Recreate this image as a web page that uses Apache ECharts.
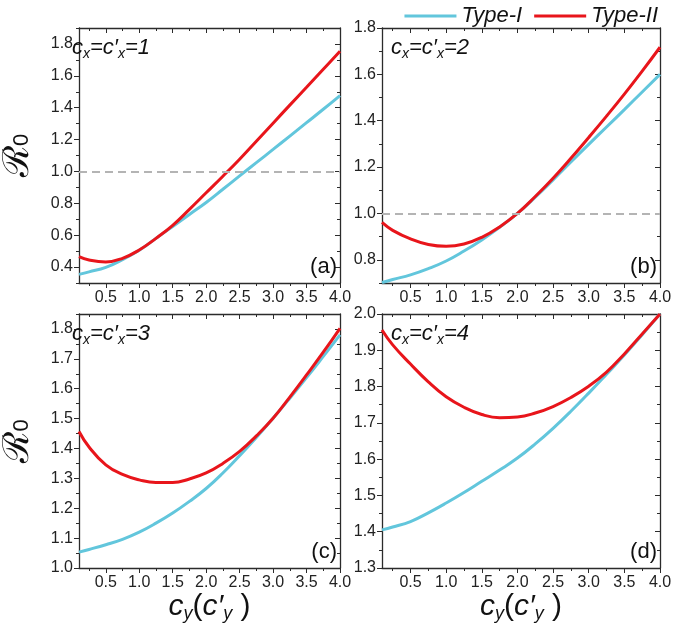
<!DOCTYPE html>
<html>
<head>
<meta charset="utf-8">
<script src="https://cdn.jsdelivr.net/npm/echarts@6/dist/echarts.min.js"></script>
<style>
  html, body { margin: 0; padding: 0; background: #fff; }
  #chart { width: 675px; height: 632px; }
</style>
</head>
<body>
<div id="chart"></div>
<script>
// c_y values shared by all four panels
const cy = [0.1, 0.25, 0.5, 0.75, 1.0, 1.25, 1.5, 1.75, 2.0, 2.25, 2.5, 2.75, 3.0, 3.25, 3.5, 3.75, 4.0]

// (a) cx = c'x = 1
const typeI_a = [0.354, 0.37, 0.398, 0.447, 0.505, 0.58, 0.655, 0.73, 0.805, 0.888, 0.972, 1.055, 1.138, 1.222, 1.306, 1.39, 1.476]
const typeII_a = [0.465, 0.444, 0.432, 0.455, 0.507, 0.58, 0.662, 0.762, 0.866, 0.97, 1.077, 1.19, 1.303, 1.416, 1.528, 1.641, 1.754]
// (b) cx = c'x = 2
const typeI_b = [0.702, 0.715, 0.735, 0.762, 0.795, 0.838, 0.886, 0.94, 1.0, 1.07, 1.145, 1.222, 1.298, 1.373, 1.448, 1.524, 1.6]
const typeII_b = [0.961, 0.927, 0.89, 0.866, 0.858, 0.868, 0.897, 0.942, 1.0, 1.073, 1.152, 1.238, 1.328, 1.42, 1.515, 1.614, 1.717]
// (c) cx = c'x = 3
const typeI_c = [1.053, 1.062, 1.078, 1.096, 1.12, 1.15, 1.184, 1.223, 1.266, 1.318, 1.376, 1.437, 1.501, 1.568, 1.637, 1.708, 1.78]
const typeII_c = [1.457, 1.405, 1.345, 1.313, 1.295, 1.286, 1.286, 1.298, 1.318, 1.35, 1.39, 1.442, 1.501, 1.572, 1.646, 1.722, 1.802]
// (d) cx = c'x = 4
const typeI_d = [1.405, 1.413, 1.428, 1.452, 1.479, 1.508, 1.539, 1.57, 1.603, 1.642, 1.685, 1.732, 1.782, 1.834, 1.887, 1.943, 2.0]
const typeII_d = [1.956, 1.915, 1.862, 1.813, 1.772, 1.743, 1.723, 1.714, 1.716, 1.727, 1.745, 1.77, 1.801, 1.84, 1.89, 1.945, 2.0]

// tick labels
const xMajor = [0.5, 1.0, 1.5, 2.0, 2.5, 3.0, 3.5, 4.0]
const xMinor = [0.25, 0.75, 1.25, 1.75, 2.25, 2.75, 3.25, 3.75]
const yMajor_a = [0.4, 0.6, 0.8, 1.0, 1.2, 1.4, 1.6, 1.8]
const yMinor_a = [0.3, 0.5, 0.7, 0.9, 1.1, 1.3, 1.5, 1.7, 1.9]
const yMajor_b = [0.8, 1.0, 1.2, 1.4, 1.6, 1.8]
const yMinor_b = [0.7, 0.9, 1.1, 1.3, 1.5, 1.7]
const yMajor_c = [1.0, 1.1, 1.2, 1.3, 1.4, 1.5, 1.6, 1.7, 1.8]
const yMinor_c = [1.05, 1.15, 1.25, 1.35, 1.45, 1.55, 1.65, 1.75, 1.85]
const yMajor_d = [1.3, 1.4, 1.5, 1.6, 1.7, 1.8, 1.9, 2.0]
const yMinor_d = [1.35, 1.45, 1.55, 1.65, 1.75, 1.85, 1.95]

const threshold = 1.0
const panelLabels = ['(a)', '(b)', '(c)', '(d)']
const cxValues = ['1', '2', '3', '4']

const CYAN = '#62c6dc'
const RED = '#e8151b'
const AXIS = '#2b2b2b'
const FONT = 'Liberation Sans, Arial, sans-serif'

const panels = [
  { grid: { left: 63, top: 28, width: 277, height: 255 }, yMin: 0.3, yMax: 1.9, yMajor: yMajor_a, yMinor: yMinor_a, t1: typeI_a, t2: typeII_a, dash: true, yName: true, xName: false },
  { grid: { left: 382, top: 28, width: 278, height: 255 }, yMin: 0.7, yMax: 1.8, yMajor: yMajor_b, yMinor: yMinor_b, t1: typeI_b, t2: typeII_b, dash: true, yName: false, xName: false },
  { grid: { left: 63, top: 314, width: 277, height: 254 }, yMin: 1.0, yMax: 1.85, yMajor: yMajor_c, yMinor: yMinor_c, t1: typeI_c, t2: typeII_c, dash: false, yName: true, xName: true },
  { grid: { left: 382, top: 314, width: 278, height: 254 }, yMin: 1.3, yMax: 2.0, yMajor: yMajor_d, yMinor: yMinor_d, t1: typeI_d, t2: typeII_d, dash: false, yName: false, xName: true }
]

// four axes per side: main (labels, outward ticks), minor outward, mirror major inward, mirror minor inward
function axisSet(dim, gi, min, max, major, minor, name) {
  const pos = dim === 'x' ? ['bottom', 'top'] : ['left', 'right']
  const base = { type: 'value', gridIndex: gi, min: min, max: max, splitLine: { show: false } }
  const line = { show: true, onZero: false, lineStyle: { color: AXIS, width: 1.3 } }
  const tick = (vals, len, inside) => ({ show: true, inside: inside, length: len, customValues: vals, lineStyle: { color: AXIS, width: 1 } })
  const main = Object.assign({}, base, {
    position: pos[0],
    axisLine: line,
    axisTick: tick(major, 5, false),
    axisLabel: {
      show: true, customValues: major, color: '#222', fontSize: 16, fontFamily: FONT,
      margin: dim === 'x' ? 7 : 6,
      formatter: v => Number(v).toFixed(1)
    }
  })
  if (name) Object.assign(main, name)
  const hid = { show: false }
  return [
    main,
    Object.assign({}, base, { position: pos[0], axisLine: hid, axisTick: tick(minor, 3, false), axisLabel: hid }),
    Object.assign({}, base, { position: pos[1], axisLine: line, axisTick: tick(major, 5, true), axisLabel: hid }),
    Object.assign({}, base, { position: pos[1], axisLine: hid, axisTick: tick(minor, 3, true), axisLabel: hid })
  ]
}

const yNameOpt = {
  name: '{r|ℛ}{n|0}',
  nameLocation: 'middle',
  nameRotate: 90,
  nameGap: 42,
  nameTextStyle: {
    rich: {
      r: { fontFamily: 'DejaVu Serif', fontSize: 36, color: '#111', verticalAlign: 'bottom' },
      n: { fontFamily: FONT, fontSize: 22, color: '#111', verticalAlign: 'bottom', padding: [0, 0, 4, 0] }
    }
  }
}
const xNameOpt = {
  name: '{i|c}{s|y}{p|(}{i|c′}{s|y}{p| )}',
  nameLocation: 'middle',
  nameGap: 22,
  nameTextStyle: {
    rich: {
      i: { fontFamily: FONT, fontStyle: 'italic', fontSize: 30, color: '#111' },
      s: { fontFamily: FONT, fontStyle: 'italic', fontSize: 18, color: '#111', padding: [14, 0, 0, 0] },
      p: { fontFamily: FONT, fontSize: 30, color: '#111' }
    }
  }
}

const grids = []
const xAxes = []
const yAxes = []
const series = []
const titles = []

panels.forEach((p, gi) => {
  grids.push(p.grid)
  xAxes.push(...axisSet('x', gi, 0.1, 4.0, xMajor, xMinor, p.xName ? xNameOpt : null))
  yAxes.push(...axisSet('y', gi, p.yMin, p.yMax, p.yMajor, p.yMinor, p.yName ? yNameOpt : null))

  const s1 = {
    name: 'Type-I', type: 'line', xAxisIndex: gi * 4, yAxisIndex: gi * 4,
    data: cy.map((x, i) => [x, p.t1[i]]),
    showSymbol: false, smooth: 0.45,
    lineStyle: { color: CYAN, width: 3 }, itemStyle: { color: CYAN }, z: 3
  }
  if (p.dash) {
    s1.markLine = {
      silent: true, symbol: 'none', label: { show: false },
      lineStyle: { color: '#b4b4b4', type: [8, 5], width: 2 },
      data: [{ yAxis: threshold }]
    }
  }
  series.push(s1)
  series.push({
    name: 'Type-II', type: 'line', xAxisIndex: gi * 4, yAxisIndex: gi * 4,
    data: cy.map((x, i) => [x, p.t2[i]]),
    showSymbol: false, smooth: 0.45,
    lineStyle: { color: RED, width: 3 }, itemStyle: { color: RED }, z: 4
  })

  titles.push({
    text: '{i|c}{s|x}{i|=c′}{s|x}{i|=' + cxValues[gi] + '}',
    left: p.grid.left + 4,
    top: p.grid.top + 2,
    textStyle: {
      rich: {
        i: { fontFamily: FONT, fontStyle: 'italic', fontWeight: 'normal', fontSize: 22, color: '#111' },
        s: { fontFamily: FONT, fontStyle: 'italic', fontWeight: 'normal', fontSize: 14, color: '#111', padding: [12, 0, 0, 0] }
      }
    }
  })
  titles.push({
    text: panelLabels[gi],
    right: 675 - (p.grid.left + p.grid.width) - 2,
    top: p.grid.top + p.grid.height - 32,
    textStyle: { fontFamily: FONT, fontSize: 22, fontWeight: 'normal', color: '#111' }
  })
})

const chart = echarts.init(document.getElementById('chart'), null, { renderer: 'canvas' })
chart.setOption({
  animation: false,
  backgroundColor: '#fff',
  title: titles,
  legend: {
    data: ['Type-I', 'Type-II'],
    right: 12,
    top: 0,
    icon: 'rect',
    itemWidth: 52,
    itemHeight: 3,
    itemGap: 12,
    textStyle: { fontFamily: FONT, fontStyle: 'italic', fontSize: 22, color: '#111' }
  },
  grid: grids,
  xAxis: xAxes,
  yAxis: yAxes,
  series: series
})
</script>
</body>
</html>
